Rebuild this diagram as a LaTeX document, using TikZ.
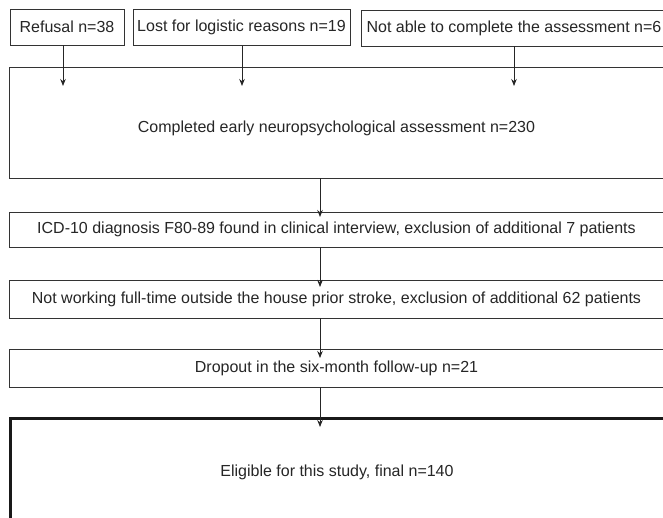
\documentclass[tikz,border=0pt]{standalone}
\usepackage{fontspec}
\setmainfont{Liberation Sans}
\usetikzlibrary{arrows.meta}
\begin{document}
\begin{tikzpicture}[x=1pt,y=-1pt,
  box/.style={draw=black!80, line width=0.9pt, inner sep=0pt, anchor=center,
    font=\fontsize{16}{19}\selectfont, text=black!85},
  finalbox/.style={box, draw=black!90, line width=3pt},
  arr/.style={draw=black!85, line width=0.9pt, -{Stealth[length=7pt,width=5.5pt]}}]
\useasboundingbox (0,0) rectangle (663,517);
\clip (0,0) rectangle (663,517);
\fill[white] (0,0) rectangle (663,517);
% top row
\node[box, minimum width=114, minimum height=36] (refusal) at (67,27) {Refusal n=38};
\node[box, minimum width=217, minimum height=36] (lost) at (241.5,27.5) {Lost for logistic reasons n=19};
\node[box, minimum width=306, minimum height=36] (notable) at (514,28) {Not able to complete the assessment n=6};
% main column
\node[box, minimum width=655, minimum height=111, text height=24pt] (completed) at (336.5,122.5) {Completed early neuropsychological assessment n=230};
\node[box, minimum width=655, minimum height=35] (icd) at (336.5,229.5) {ICD-10 diagnosis F80-89 found in clinical interview, exclusion of additional 7 patients};
\node[box, minimum width=655, minimum height=38] (notwork) at (336.5,299) {Not working full-time outside the house prior stroke, exclusion of additional 62 patients};
\node[box, minimum width=655, minimum height=38] (dropout) at (336.5,368) {Dropout in the six-month follow-up n=21};
\node[finalbox, minimum width=654, minimum height=108] (final) at (337,472) {Eligible for this study, final n=140};
% arrow end points
\coordinate (t1) at (63,86);
\coordinate (t2) at (242,86);
\coordinate (t3) at (514,86);
\coordinate (t4) at (320,217);
\coordinate (t5) at (320,287);
\coordinate (t6) at (320,358);
\coordinate (t7) at (320,427);
\draw[arr] (refusal.south -| t1) -- (t1);
\draw[arr] (lost.south -| t2) -- (t2);
\draw[arr] (notable.south -| t3) -- (t3);
\draw[arr] (completed.south -| t4) -- (t4);
\draw[arr] (icd.south -| t5) -- (t5);
\draw[arr] (notwork.south -| t6) -- (t6);
\draw[arr] (dropout.south -| t7) -- (t7);
\end{tikzpicture}
\end{document}
